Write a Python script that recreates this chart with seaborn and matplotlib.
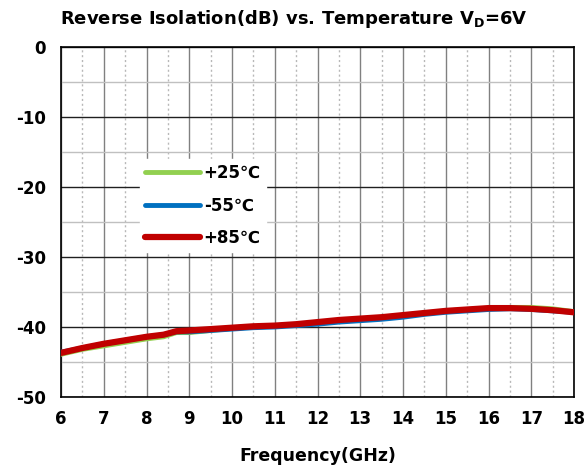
import numpy as np
import pandas as pd
import matplotlib
matplotlib.use("Agg")
import matplotlib.pyplot as plt
import seaborn as sns
from matplotlib.ticker import MultipleLocator

freq = [6, 6.5, 7, 7.5, 8, 8.4, 8.7, 9, 9.5, 10, 10.5, 11, 11.5, 12, 12.5, 13,
        13.5, 14, 14.5, 15, 15.5, 16, 16.5, 17, 17.5, 18]
iso_p25 = [-43.9, -43.2, -42.7, -42.2, -41.7, -41.4, -40.8, -40.8, -40.5, -40.2, -40.0,
           -39.9, -39.7, -39.4, -39.1, -38.9, -38.7, -38.4, -38.0, -37.7, -37.5, -37.3,
           -37.2, -37.2, -37.4, -37.8]
iso_m55 = [-43.6, -43.0, -42.4, -41.9, -41.4, -41.1, -40.7, -40.7, -40.5, -40.3, -40.1,
           -40.0, -39.8, -39.6, -39.3, -39.1, -38.9, -38.6, -38.2, -37.9, -37.7, -37.5,
           -37.4, -37.5, -37.7, -37.9]
iso_p85 = [-43.7, -43.0, -42.4, -41.9, -41.4, -41.1, -40.6, -40.5, -40.3, -40.1, -39.9,
           -39.8, -39.6, -39.3, -39.0, -38.8, -38.6, -38.3, -38.0, -37.7, -37.5, -37.3,
           -37.3, -37.4, -37.6, -37.9]
labels = ["+25\u2103", "-55\u2103", "+85\u2103"]
colors = ["#92d050", "#0070c0", "#c00000"]
widths = [3.5, 3.5, 4.5]

sns.set_style("white")
plt.rcParams["font.family"] = ["DejaVu Sans"]
plt.rcParams["font.weight"] = "bold"
plt.rcParams["axes.unicode_minus"] = False
plt.rcParams["text.color"] = "black"
plt.rcParams["xtick.color"] = "black"
plt.rcParams["ytick.color"] = "black"
plt.rcParams["axes.labelcolor"] = "black"

df = pd.concat([
    pd.DataFrame({"freq": freq, "iso": vals, "temp": lab})
    for vals, lab in zip([iso_p25, iso_m55, iso_p85], labels)
])

fig = plt.figure(figsize=(5.88, 4.74), dpi=100)
ax = fig.add_axes([61/588, 1-397/474, (574-61)/588, (397-47)/474])

for lab, col, lw in zip(labels, colors, widths):
    sns.lineplot(data=df[df["temp"] == lab], x="freq", y="iso", color=col,
                 linewidth=lw, ax=ax, label=lab, zorder=3)

ax.set_xlim(6, 18)
ax.set_ylim(-50, 0)
ax.xaxis.set_major_locator(MultipleLocator(1))
ax.xaxis.set_minor_locator(MultipleLocator(0.5))
ax.yaxis.set_major_locator(MultipleLocator(10))
ax.yaxis.set_minor_locator(MultipleLocator(5))

ax.grid(which="major", axis="x", color="#808080", linewidth=1)
ax.grid(which="minor", axis="x", color="#b8b8b8", linewidth=1, linestyle=(0, (1.5, 2)))
ax.grid(which="major", axis="y", color="#202020", linewidth=1)
ax.grid(which="minor", axis="y", color="#c0c0c0", linewidth=1)
ax.set_axisbelow(True)

for s in ax.spines.values():
    s.set_color("black")
    s.set_linewidth(1.2)

ax.tick_params(axis="both", which="major", direction="out", length=5, width=1,
               labelsize=12, color="black", labelcolor="black", pad=6)
ax.tick_params(axis="x", which="major", pad=4)
ax.tick_params(axis="x", which="minor", direction="out", length=3, width=1, color="black")
ax.tick_params(axis="y", which="minor", length=0)
for t in ax.get_xticklabels() + ax.get_yticklabels():
    t.set_fontweight("bold")

ax.set_xlabel("Frequency(GHz)", fontsize=12.5, fontweight="bold", labelpad=14,
              color="black")
ax.set_ylabel("")
fig.text(0.5, 1-19/474, "Reverse Isolation(dB) vs. Temperature V$_\\mathbf{D}$=6V",
         ha="center", va="center", fontsize=13, fontweight="bold", color="black")

leg = ax.legend(loc="upper left", bbox_to_anchor=(132/588, 1-151/474),
                bbox_transform=fig.transFigure, frameon=True, fancybox=False,
                handlelength=3.3, handletextpad=0.2, labelspacing=0.85,
                prop={"size": 12, "weight": "bold"}, borderpad=0.3)
leg.get_frame().set_edgecolor("white")
leg.get_frame().set_facecolor("white")
leg.get_frame().set_alpha(1)
for t in leg.get_texts():
    t.set_color("black")

fig.savefig("out.png", dpi=100)
